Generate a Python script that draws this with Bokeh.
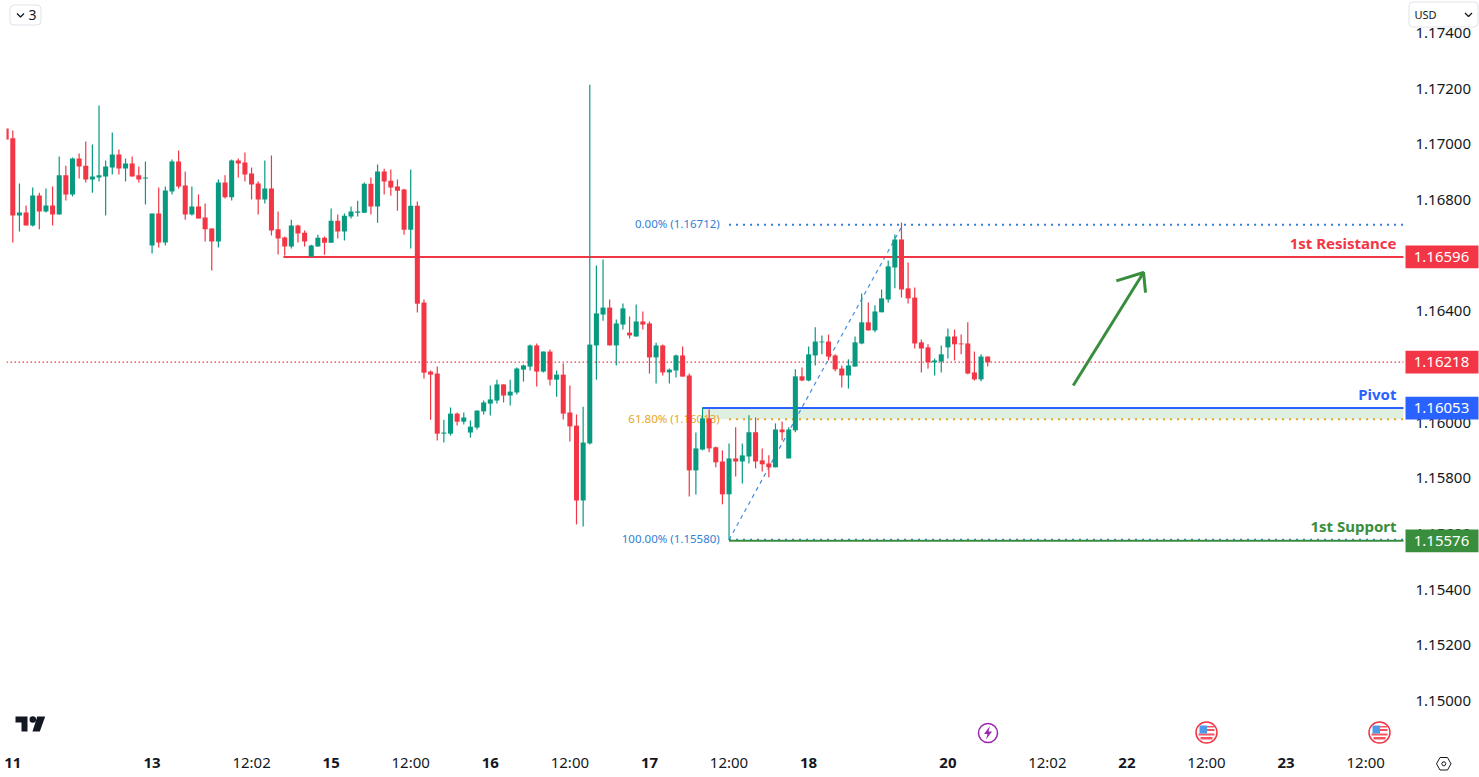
from bokeh.plotting import figure
from bokeh.models import Range1d, LinearAxis, FixedTicker
from bokeh.core.properties import value
from bokeh.embed import file_html
from bokeh.resources import INLINE

# ---------- data (hourly candles) ----------
candle_index = list(range(-1, 148))
opens = [1.17057,1.17022,1.16745,1.16756,1.16709,1.16817,1.16759,1.16781,1.16748,1.16889,1.16820,1.16950,1.16924,1.16874,1.16881,1.16885,1.16917,1.16964,1.16914,1.16932,1.16889,1.16878,
 1.16637,1.16752,1.16648,1.16831,1.16939,1.16853,1.16748,1.16777,1.16738,1.16698,1.16651,1.16863,1.16810,1.16942,1.16935,1.16896,1.16860,1.16802,1.16842,1.16695,1.16666,1.16633,1.16709,
 1.16683,1.16597,1.16633,1.16665,1.16647,1.16726,1.16687,1.16741,1.16755,1.16755,1.16859,1.16777,1.16903,1.16870,1.16849,1.16838,1.16694,1.16780,1.16432,1.16184,1.16177,1.15961,1.15961,
 1.16033,1.16004,1.15965,1.15983,1.16041,1.16069,1.16080,1.16138,1.16098,1.16109,1.16191,1.16202,1.16278,1.16184,1.16256,1.16155,1.16173,1.16037,1.15990,1.15721,1.15926,1.16278,1.16389,
 1.16414,1.16278,1.16353,1.16324,1.16310,1.16364,1.16357,1.16235,1.16278,1.16181,1.16188,1.16242,1.16170,1.15829,1.15904,1.16016,1.15912,1.15861,1.15743,1.15872,1.15861,1.15879,1.15966,
 1.15865,1.15854,1.15840,1.15976,1.15872,1.15973,1.16167,1.16152,1.16242,1.16289,1.16292,1.16242,1.16195,1.16170,1.16202,1.16285,1.16361,1.16332,1.16397,1.16443,1.16558,1.16659,1.16483,
 1.16450,1.16289,1.16271,1.16217,1.16220,1.16271,1.16310,1.16285,1.16285,1.16181,1.16156,1.16238]
highs = [1.17057,1.17050,1.16860,1.16781,1.16845,1.16827,1.16842,1.16849,1.16957,1.16924,1.16953,1.16968,1.17011,1.17000,1.17140,1.16942,1.17043,1.16982,1.16950,1.16957,1.16921,1.16939,
 1.16752,1.16845,1.16849,1.16946,1.16978,1.16903,1.16849,1.16820,1.16788,1.16698,1.16874,1.16889,1.16946,1.16950,1.16971,1.16917,1.16867,1.16942,1.16960,1.16759,1.16669,1.16730,1.16712,
 1.16691,1.16640,1.16676,1.16669,1.16770,1.16748,1.16752,1.16777,1.16798,1.16863,1.16881,1.16928,1.16913,1.16910,1.16874,1.16841,1.16910,1.16795,1.16443,1.16188,1.16202,1.16011,1.16055,
 1.16037,1.16037,1.16008,1.16044,1.16080,1.16134,1.16155,1.16138,1.16155,1.16199,1.16209,1.16281,1.16285,1.16256,1.16263,1.16188,1.16213,1.16134,1.16030,1.16058,1.17215,1.16565,1.16587,
 1.16443,1.16371,1.16429,1.16382,1.16425,1.16400,1.16364,1.16288,1.16281,1.16195,1.16245,1.16274,1.16177,1.15965,1.16055,1.16048,1.15915,1.15901,1.15926,1.15984,1.15926,1.16027,1.16019,
 1.15908,1.15883,1.15998,1.16005,1.15984,1.16192,1.16199,1.16274,1.16343,1.16314,1.16317,1.16246,1.16206,1.16228,1.16310,1.16465,1.16432,1.16422,1.16479,1.16583,1.16677,1.16720,1.16576,
 1.16486,1.16299,1.16282,1.16231,1.16278,1.16339,1.16335,1.16317,1.16361,1.16256,1.16246,1.16238]
lows = [1.17018,1.16648,1.16687,1.16709,1.16705,1.16695,1.16756,1.16709,1.16748,1.16799,1.16813,1.16878,1.16863,1.16827,1.16867,1.16745,1.16892,1.16892,1.16867,1.16885,1.16863,1.16784,
 1.16608,1.16630,1.16637,1.16820,1.16842,1.16730,1.16745,1.16734,1.16651,1.16547,1.16630,1.16806,1.16799,1.16881,1.16867,1.16802,1.16748,1.16788,1.16673,1.16605,1.16601,1.16626,1.16648,
 1.16633,1.16597,1.16633,1.16604,1.16647,1.16662,1.16655,1.16734,1.16741,1.16755,1.16748,1.16719,1.16820,1.16816,1.16762,1.16676,1.16626,1.16396,1.16159,1.16011,1.15936,1.15929,1.15954,
 1.15990,1.15994,1.15947,1.15976,1.16030,1.16026,1.16069,1.16073,1.16062,1.16102,1.16148,1.16188,1.16130,1.16181,1.16134,1.16094,1.16012,1.15933,1.15635,1.15627,1.15922,1.16155,1.16367,
 1.16278,1.16206,1.16335,1.16303,1.16310,1.16335,1.16177,1.16141,1.16170,1.16141,1.16163,1.16166,1.15735,1.15742,1.15901,1.15894,1.15840,1.15707,1.15578,1.15807,1.15782,1.15854,1.15836,
 1.15825,1.15804,1.15840,1.15937,1.15872,1.15966,1.16149,1.16149,1.16206,1.16246,1.16224,1.16185,1.16127,1.16123,1.16202,1.16282,1.16332,1.16325,1.16397,1.16432,1.16483,1.16450,1.16429,
 1.16267,1.16181,1.16195,1.16170,1.16181,1.16231,1.16224,1.16246,1.16174,1.16152,1.16149,1.16202]
closes = [1.17018,1.16745,1.16756,1.16709,1.16817,1.16759,1.16781,1.16748,1.16889,1.16820,1.16950,1.16921,1.16874,1.16885,1.16889,1.16921,1.16964,1.16914,1.16932,1.16885,1.16874,1.16881,
 1.16752,1.16648,1.16835,1.16939,1.16849,1.16748,1.16777,1.16734,1.16695,1.16651,1.16863,1.16810,1.16942,1.16932,1.16892,1.16856,1.16802,1.16842,1.16691,1.16662,1.16633,1.16709,1.16680,
 1.16651,1.16637,1.16665,1.16647,1.16726,1.16687,1.16744,1.16759,1.16759,1.16859,1.16777,1.16903,1.16867,1.16845,1.16834,1.16694,1.16780,1.16428,1.16180,1.16173,1.15961,1.15965,1.16033,
 1.16004,1.16019,1.15986,1.16044,1.16073,1.16084,1.16138,1.16098,1.16112,1.16195,1.16206,1.16278,1.16184,1.16256,1.16155,1.16173,1.16033,1.15987,1.15721,1.15929,1.16281,1.16393,1.16414,
 1.16278,1.16357,1.16411,1.16314,1.16364,1.16353,1.16235,1.16278,1.16181,1.16191,1.16242,1.16166,1.15829,1.15908,1.16016,1.15908,1.15858,1.15743,1.15872,1.15861,1.15883,1.15966,1.15861,
 1.15851,1.15840,1.15976,1.15966,1.15976,1.16167,1.16152,1.16246,1.16292,1.16292,1.16238,1.16192,1.16170,1.16206,1.16289,1.16361,1.16332,1.16400,1.16447,1.16562,1.16659,1.16479,1.16447,
 1.16285,1.16267,1.16217,1.16224,1.16246,1.16310,1.16282,1.16282,1.16177,1.16156,1.16238,1.16217]

price_ticks = [1.150,1.152,1.154,1.156,1.158,1.160,1.162,1.164,1.166,1.168,1.170,1.172,1.174]
time_tick_index = [36,60,84,108,156,180,204]
time_tick_labels = ["12:02","12:00","12:00","12:00","12:02","12:00","12:00"]
day_tick_index = [0,21,48,72,96,120,141,168,192]
day_tick_labels = ["11","13","15","16","17","18","20","22","23"]

resistance, pivot, support, last_price = 1.16596, 1.16053, 1.15576, 1.16218
fib_0, fib_618, fib_100 = 1.16712, 1.16013, 1.15580
level_names = ["1st Resistance", "Pivot", "1st Support"]
level_name_y = [242, 393, 525]
fib_labels = ["0.00% (1.16712)", "61.80% (1.16013)", "100.00% (1.15580)"]
fib_start_index, fib_end_index = 108, 134.2
res_start_index, piv_start_index, sup_start_index = 40.8, 104, 108
level_end_index = 209.7
arrow_index = [159.9, 170.5]
arrow_price = [1.16134, 1.16540]
arrow_head_index = [166.4, 170.5, 170.8]
arrow_head_price = [1.16510, 1.16540, 1.16468]

GREEN, RED = "#089981", "#f23645"
BLUE, LEVEL_GREEN, ORANGE, FIB_BLUE = "#2962ff", "#388e3c", "#e6a623", "#2f7fd6"
TEXT = "#131722"
FONT = "Noto Sans"
DOTS = value([2, 5])

# the frame fills the canvas; the axis labels are pulled into it with negative standoffs.
p = figure(width=1479, height=777, output_backend="svg", toolbar_location=None,
           x_range=Range1d(-1.855, 221.16), y_range=Range1d(1.147256, 1.175173),
           y_axis_location="right", x_axis_location="below",
           min_border=0, margin=(0, 0, 0, 0), background_fill_color="white", border_fill_color="white",
           outline_line_color=None)
p.extra_x_ranges["px"] = Range1d(0, 1479)
p.extra_y_ranges["px"] = Range1d(777, 0)
p.grid.visible = False
PX = dict(x_range_name="px", y_range_name="px")

def style_axis(a, standoff, bold=False):
    a.axis_line_color = None
    a.major_tick_line_color = None
    a.minor_tick_line_color = None
    a.major_tick_in = 0
    a.major_tick_out = 0
    a.minor_tick_in = 0
    a.minor_tick_out = 0
    a.major_label_standoff = standoff
    a.major_label_text_font = FONT
    a.major_label_text_font_size = "15px"
    a.major_label_text_font_style = "bold" if bold else "normal"
    a.major_label_text_color = TEXT

ay = p.yaxis[0]
ay.ticker = FixedTicker(ticks=price_ticks)
ay.major_label_overrides = {t: f"{t:.5f}" for t in price_ticks}
style_axis(ay, -64)

ax = p.xaxis[0]
ax.ticker = FixedTicker(ticks=time_tick_index)
ax.major_label_overrides = dict(zip(time_tick_index, time_tick_labels))
style_axis(ax, -26)

ad = LinearAxis(ticker=FixedTicker(ticks=day_tick_index),
                major_label_overrides=dict(zip(day_tick_index, day_tick_labels)))
style_axis(ad, -20, bold=True)
p.add_layout(ad, "below")

# ---------- background levels ----------
p.quad(left=[piv_start_index], right=[level_end_index], bottom=[fib_618], top=[pivot],
       fill_color="#dff0e0", line_color=None)
p.segment([-0.95], [last_price], [level_end_index], [last_price], line_color=RED, line_width=1.1, line_dash=value([1.5, 2.5]))
p.segment([sup_start_index], [fib_100], [level_end_index], [fib_100], line_color=FIB_BLUE, line_width=2, line_dash=DOTS)
p.segment([sup_start_index], [fib_0], [level_end_index], [fib_0], line_color=FIB_BLUE, line_width=2, line_dash=DOTS)
p.segment([sup_start_index], [fib_618], [level_end_index], [fib_618], line_color=ORANGE, line_width=2, line_dash=DOTS)
p.segment([fib_start_index], [fib_100], [fib_end_index], [fib_0], line_color="#3f8de0", line_width=1.2, line_dash=value([4, 4]))
p.segment([res_start_index], [resistance], [level_end_index], [resistance], line_color=RED, line_width=2)
p.segment([piv_start_index], [pivot], [level_end_index], [pivot], line_color=BLUE, line_width=2)
p.segment([sup_start_index], [support], [level_end_index], [support], line_color=LEVEL_GREEN, line_width=2)
for txt, val, col in zip(fib_labels, [fib_0, fib_618, fib_100], [FIB_BLUE, ORANGE, FIB_BLUE]):
    p.text([106.6], [val], text=[txt], text_color=col, text_align="right", text_baseline="middle",
           y_offset=-1, text_font=value(FONT), text_font_size="11.5px")

# ---------- candles ----------
cols = [GREEN if c >= o else RED for o, c in zip(opens, closes)]
p.segment(candle_index, lows, candle_index, highs, line_color=cols, line_width=1.2)
p.vbar(x=candle_index, width=0.76, bottom=opens, top=closes, fill_color=cols, line_color=None)
# the reference crops the chart just left of the first full candle
p.quad(left=[0], right=[6], top=[0], bottom=[777], fill_color="white", line_color=None, **PX)

# ---------- projection arrow ----------
p.line(arrow_index, arrow_price, line_color=LEVEL_GREEN, line_width=3)
p.line(arrow_head_index, arrow_head_price, line_color=LEVEL_GREEN, line_width=3)

def label(x, y, s, col=TEXT, size="15px", style="normal", align="center", rng=PX):
    p.text([x], [y], text=[s], text_color=col, text_align=align, text_baseline="middle",
           text_font=value(FONT), text_font_size=size, text_font_style=style, level="overlay", **rng)

for name, yy, col in zip(level_names, level_name_y, [RED, BLUE, LEVEL_GREEN]):
    label(1396, yy, name, col=col, size="15px", style="bold", align="right")

# ---------- price tags ----------
for val, col in [(resistance, RED), (last_price, RED), (pivot, BLUE), (support, LEVEL_GREEN)]:
    p.quad(left=[1405], right=[1478], top=[val + 0.00041], bottom=[val - 0.00041], x_range_name="px",
           fill_color=col, line_color=None, level="annotation")
    label(1441, val, f"{val:.5f}", col="white", rng=dict(x_range_name="px"))

# ---------- buttons ----------
def button(l, r, t, b):
    p.quad(left=[l], right=[r], top=[t], bottom=[b], fill_color="white", line_color="#e0e3eb",
           line_width=1, border_radius=4, level="annotation", **PX)
def chevron(cx, cy):
    p.line([cx-3.5, cx, cx+3.5], [cy-1.5, cy+2, cy-1.5], line_color=TEXT, line_width=1.3, level="overlay", **PX)
button(9.5, 40.5, 4.5, 24.5)
chevron(20, 14.5)
label(32, 14.5, "3", size="14px")
button(1408.5, 1477.5, 1.5, 26.5)
chevron(1468, 14)
label(1414, 13.5, "USD", size="11px", align="left")

# ---------- logo ----------
p.patch([15, 27, 27, 21, 21, 15], [716, 716, 731, 731, 722, 722], fill_color=TEXT, line_color=None, **PX)
p.patch([36.7, 44.7, 39.3, 32], [716, 716, 731, 731], fill_color=TEXT, line_color=None, **PX)
p.scatter([32.3], [719], size=6.5, fill_color=TEXT, line_color=None, **PX)

# ---------- event markers ----------
p.scatter([987.5], [732.5], size=19, fill_color="white", line_color="#9c27b0", line_width=1.5, **PX)
p.patch([989.5, 983.5, 987, 985.5, 991.5, 988], [725.5, 733.5, 733.5, 739, 731, 731],
        fill_color="#9c27b0", line_color=None, **PX)
for fx in [1206, 1379]:
    p.scatter([fx], [732], size=21, fill_color="white", line_color=RED, line_width=1.5, **PX)
    p.quad(left=[fx, fx, fx-8, fx-6], right=[fx+7.5, fx+8, fx+8, fx+6],
           top=[725.5, 728.5, 733, 736.5], bottom=[727, 730.5, 735, 739],
           fill_color=RED, fill_alpha=0.85, line_color=None, **PX)
    p.quad(left=[fx-7], right=[fx+0.5], top=[725], bottom=[733], fill_color="#4d9be8", line_color=None, **PX)

# ---------- settings hexagon ----------
p.patch([1436, 1439.5, 1447, 1450.5, 1447, 1439.5], [763.3, 757, 757, 763.3, 769.5, 769.5],
        fill_color="white", line_color=TEXT, line_width=1, **PX)
p.patch([1441.2, 1442.3, 1444.3, 1445.4, 1444.3, 1442.3], [763.3, 761.4, 761.4, 763.3, 765.2, 765.2],
        fill_color="white", line_color=TEXT, line_width=1, **PX)

open("out.html", "w").write(file_html(p, INLINE))
